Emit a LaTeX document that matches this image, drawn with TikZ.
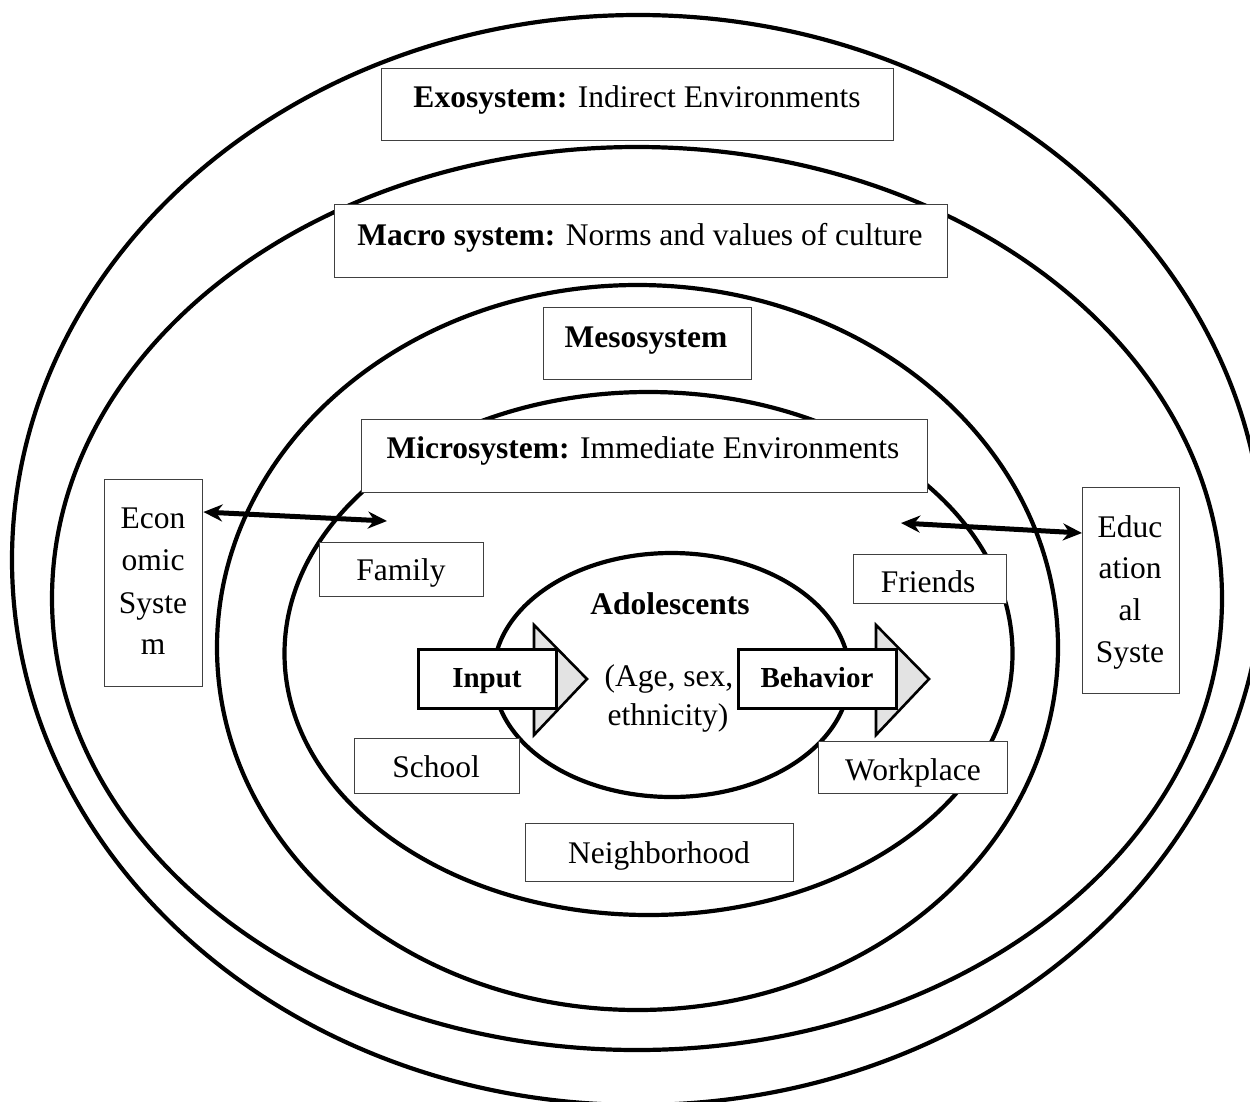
\documentclass[tikz,border=0pt]{standalone}
\usepackage{fontspec}
\setmainfont{Liberation Serif}
\usetikzlibrary{arrows.meta}
\tikzset{
  ring/.style={line width=4.2pt},
  box/.style={draw=black!75, line width=1.4pt, fill=white, inner sep=0pt, anchor=north west},
  txt/.style={font=\fontsize{31.5}{38}\selectfont, inner sep=0pt, anchor=base},
  btxt/.style={font=\fontsize{29}{35}\selectfont\bfseries, inner sep=0pt, anchor=base},
  shaft/.style={draw, line width=2.6pt, fill=white, inner sep=0pt, anchor=north west},
  headtri/.style={draw, line width=2.6pt, fill=gray!22, line join=miter},
  dbl/.style={line width=5pt, {Stealth[length=19pt,width=17pt]}-{Stealth[length=19pt,width=17pt]}}
}
\begin{document}
\begin{tikzpicture}[x=1pt,y=-1pt]
\useasboundingbox (0,0) rectangle (1250,1101);
\fill[white] (0,0) rectangle (1250,1101);
\begin{scope}
\clip (0,0) rectangle (1250,1101);
\draw[ring] (638,560) ellipse [x radius=626pt, y radius=545pt];
\draw[ring] (637,598.5) ellipse [x radius=585pt, y radius=451.5pt];
\draw[ring] (637.5,647.5) ellipse [x radius=420.5pt, y radius=362.5pt];
\draw[ring] (648.5,653.5) ellipse [x radius=364pt, y radius=261.5pt];
\draw[ring] (671.5,675) ellipse [x radius=178pt, y radius=122pt];
\end{scope}

% boxes
\node[box, minimum width=512pt, minimum height=72pt] (exo) at (381,68) {};
\node[box, minimum width=613pt, minimum height=73pt] (macro) at (334,204) {};
\node[box, minimum width=208pt, minimum height=72pt] (meso) at (543,307) {};
\node[box, minimum width=566pt, minimum height=73pt] (micro) at (361,419) {};
\node[box, minimum width=98pt, minimum height=207pt] (econ) at (104,479) {};
\node[box, minimum width=97pt, minimum height=206pt] (edu) at (1082,487) {};
\node[box, minimum width=164pt, minimum height=54pt] (family) at (319,542) {};
\node[box, minimum width=153pt, minimum height=49pt] (friends) at (853,554) {};
\node[box, minimum width=165pt, minimum height=55pt] (school) at (354,738) {};
\node[box, minimum width=189pt, minimum height=52pt] (work) at (818,741) {};
\node[box, minimum width=268pt, minimum height=58pt] (neigh) at (525,823) {};

% box texts
\node[txt] (exot) at (637,107) {\textbf{Exosystem:} Indirect Environments};
\node[txt] (macrot) at (640,245) {\textbf{Macro system:} Norms and values of culture};
\node[txt] (mesot) at (646,347) {\textbf{Mesosystem}};
\node[txt] (microt) at (643,458) {\textbf{Microsystem:} Immediate Environments};
\node[txt] (econ1) at (153,528) {Econ};
\node[txt] (econ2) at (153,570) {omic};
\node[txt] (econ3) at (153,613) {Syste};
\node[txt] (econ4) at (153,654) {m};
\node[txt] (edu1) at (1130,537) {Educ};
\node[txt] (edu2) at (1130,578) {ation};
\node[txt] (edu3) at (1130,620) {al};
\node[txt] (edu4) at (1130,662) {Syste};
\node[txt] (familyt) at (401,580) {Family};
\node[txt] (friendst) at (928,592) {Friends};
\node[txt] (schoolt) at (436,777) {School};
\node[txt] (workt) at (913,780) {Workplace};
\node[txt] (neight) at (659,863) {Neighborhood};

% adolescents
\node[txt] (adol) at (670,614) {\textbf{Adolescents}};
\node[txt] (age) at (669,686) {(Age, sex,};
\node[txt] (eth) at (668,725) {ethnicity)};

% block arrows
\draw[headtri] (534,625) -- (587,679) -- (534,735) -- cycle;
\node[shaft, minimum width=138pt, minimum height=59pt] (input) at (417,648) {};
\node[btxt] (inputt) at (487,687) {Input};
\draw[headtri] (876,625) -- (929,679) -- (876,735) -- cycle;
\node[shaft, minimum width=158pt, minimum height=59pt] (behav) at (737,648) {};
\node[btxt] (behavt) at (817,687) {Behavior};

% double arrows
\coordinate (famarrow) at (387,521);
\coordinate (friarrow) at (901,523);
\draw[dbl] ([yshift=-33pt]econ.north east) -- (famarrow);
\draw[dbl] (friarrow) -- ([yshift=-46pt]edu.north west);
\end{tikzpicture}
\end{document}
